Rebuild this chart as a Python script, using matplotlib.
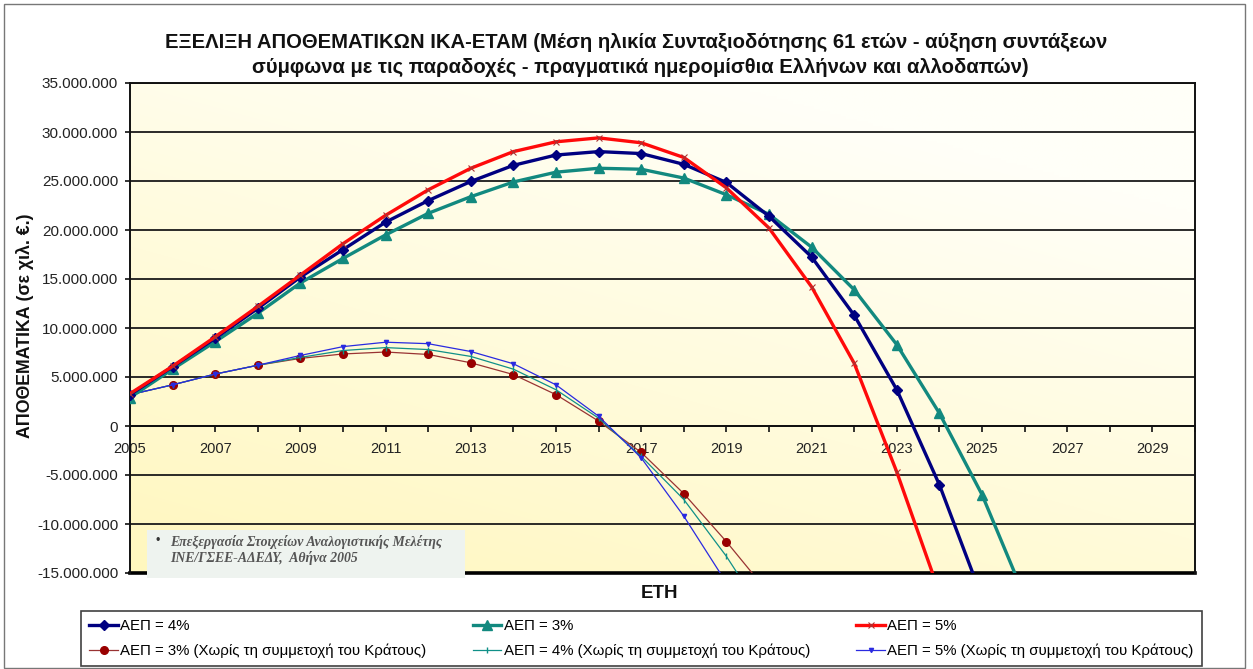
import numpy as np
import matplotlib
matplotlib.use("Agg")
import matplotlib.pyplot as plt
from matplotlib.patches import Rectangle
from matplotlib.ticker import FuncFormatter, MultipleLocator

plt.rcParams['font.family'] = ['Liberation Sans', 'DejaVu Sans']

# ---------------- data (thousand €) ----------------
years_4 = list(range(2005, 2026))
aep_4 = [3.2, 6.05, 8.95, 12.0, 15.2, 18.0, 20.8, 23.0, 24.95, 26.6, 27.65, 28.0,
         27.8, 26.7, 24.85, 21.4, 17.25, 11.3, 3.7, -6.0, -17.5]

years_3 = list(range(2005, 2027))
aep_3 = [2.9, 5.8, 8.6, 11.5, 14.6, 17.1, 19.5, 21.7, 23.4, 24.9, 25.9, 26.3,
         26.2, 25.3, 23.6, 21.6, 18.25, 13.9, 8.3, 1.3, -7.0, -17.4]

years_5 = list(range(2005, 2025))
aep_5 = [3.3, 6.1, 9.1, 12.2, 15.4, 18.6, 21.5, 24.1, 26.3, 28.0, 29.0, 29.4,
         28.9, 27.4, 24.3, 20.2, 14.2, 6.4, -4.7, -17.0]

years_3n = list(range(2005, 2021))
aep_3n = [3.2, 4.2, 5.3, 6.2, 6.9, 7.35, 7.55, 7.3, 6.45, 5.25, 3.2, 0.5,
          -2.7, -6.9, -11.8, -17.1]

years_4n = list(range(2005, 2021))
aep_4n = [3.2, 4.2, 5.3, 6.2, 7.0, 7.7, 8.0, 7.8, 7.1, 5.8, 3.7, 0.8,
          -3.1, -7.5, -13.3, -20.0]

years_5n = list(range(2005, 2020))
aep_5n = [3.2, 4.2, 5.3, 6.2, 7.2, 8.1, 8.55, 8.4, 7.6, 6.35, 4.2, 1.0,
          -3.25, -9.2, -16.0]

labels = ["ΑΕΠ = 4%", "ΑΕΠ = 3%", "ΑΕΠ = 5%",
          "ΑΕΠ = 3% (Χωρίς τη συμμετοχή του Κράτους)",
          "ΑΕΠ = 4% (Χωρίς τη συμμετοχή του Κράτους)",
          "ΑΕΠ = 5% (Χωρίς τη συμμετοχή του Κράτους)"]

title1 = "ΕΞΕΛΙΞΗ ΑΠΟΘΕΜΑΤΙΚΩΝ ΙΚΑ-ΕΤΑΜ (Μέση ηλικία Συνταξιοδότησης 61 ετών - αύξηση συντάξεων"
title2 = "σύμφωνα με τις παραδοχές - πραγματικά ημερομίσθια Ελλήνων και αλλοδαπών)"
ylabel = "ΑΠΟΘΕΜΑΤΙΚΑ (σε χιλ. €.)"
xlabel = "ΕΤΗ"
note1 = "Επεξεργασία Στοιχείων Αναλογιστικής Μελέτης"
note2 = "ΙΝΕ/ΓΣΕΕ-ΑΔΕΔΥ,  Αθήνα 2005"

M = 1e6
W, H = 1253, 669

fig = plt.figure(figsize=(W / 100, H / 100), dpi=100)
fig.patch.set_facecolor('white')
ax = fig.add_axes([130 / W, 1 - 573 / H, (1195 - 130) / W, (573 - 83) / H])

# gradient background
nx, ny = 200, 200
gx, gy = np.meshgrid(np.linspace(0, 1, nx), np.linspace(0, 1, ny))
t = np.clip(0.45 * gx + 0.75 * gy, 0, 1)
c0 = np.array([255, 247, 190]) / 255
c1 = np.array([255, 255, 248]) / 255
grad = c0[None, None, :] * (1 - t[..., None]) + c1[None, None, :] * t[..., None]
ax.imshow(grad, extent=[0, 1, 0, 1], transform=ax.transAxes, aspect='auto',
          origin='lower', zorder=0, interpolation='bilinear')

# lines
h3n, = ax.plot(years_3n, np.array(aep_3n) * M, color='#993333', lw=0.9,
               marker='o', ms=5.5, mfc='#990000', mec='#990000', zorder=3)
h4n, = ax.plot(years_4n, np.array(aep_4n) * M, color='#109088', lw=0.9,
               marker='|', ms=5, mew=1, zorder=3)
h5n, = ax.plot(years_5n, np.array(aep_5n) * M, color='#2a2ae0', lw=0.9,
               marker='v', ms=3, zorder=3)
h3, = ax.plot(years_3, np.array(aep_3) * M, color='#12897f', lw=2.4,
              marker='^', ms=7.5, zorder=4)
h4, = ax.plot(years_4, np.array(aep_4) * M, color='#000080', lw=2.4,
              marker='D', ms=5.5, zorder=5)
h5, = ax.plot(years_5, np.array(aep_5) * M, color='#ff0a0a', lw=2.4,
              marker='x', ms=5, mew=0.8, mec='#aa3333', zorder=6)

ax.set_xlim(2005, 2030)
ax.set_ylim(-15 * M, 35 * M)

# axes styling
ax.yaxis.set_major_locator(MultipleLocator(5 * M))
ax.yaxis.set_major_formatter(FuncFormatter(lambda v, p: f"{int(round(v)):,}".replace(',', '.')))
ax.set_xticks(range(2005, 2031))
ax.set_xticklabels([str(y) if (y - 2005) % 2 == 0 and y < 2030 else "" for y in range(2005, 2031)])
ax.grid(axis='y', color='#1a1a1a', lw=1.3, zorder=1)
ax.set_axisbelow(True)

ax.spines['bottom'].set_position(('data', 0))
for s in ['bottom', 'left', 'right', 'top']:
    ax.spines[s].set_color('#111111')
    ax.spines[s].set_linewidth(1.4)
    ax.spines[s].set_zorder(2)
ax.tick_params(axis='x', direction='out', length=4.3, width=1.2, pad=7.5,
               labelsize=10.5, labelcolor='#222222', color='#111111')
ax.tick_params(axis='y', direction='out', length=3.5, width=1.2, pad=5,
               labelsize=11, labelcolor='#222222', color='#111111')
# bottom frame line
ax.plot([0, 1], [0, 0], transform=ax.transAxes, color='black', lw=2.6,
        clip_on=False, zorder=2)

# titles and labels
fig.text(636 / W, 1 - 42 / H, title1, ha='center', va='center', fontsize=14.6,
         fontweight='bold', color='#111111')
fig.text(640 / W, 1 - 67 / H, title2, ha='center', va='center', fontsize=14.6,
         fontweight='bold', color='#111111')
fig.text(25 / W, 1 - 326 / H, ylabel, ha='center', va='center', rotation=90,
         fontsize=12.8, fontweight='bold', color='#111111')
fig.text(660 / W, 1 - 593 / H, xlabel, ha='center', va='center',
         fontsize=13.5, fontweight='bold', color='#111111')

# note box
box = Rectangle((147 / W, 1 - 578 / H), (465 - 147) / W, (578 - 530) / H,
                transform=fig.transFigure, facecolor='#eef3ef', edgecolor='none',
                zorder=10, clip_on=False)
ax.add_patch(box)
fig.text(158 / W, 1 - 541 / H, "•", ha='center', va='center', fontsize=9,
         color='#333333', zorder=11)
fig.text(170 / W, 1 - 542 / H, note1, ha='left', va='center', fontsize=9.9,
         family=['Liberation Serif', 'DejaVu Serif'], style='italic',
         fontweight='bold', color='#555555', zorder=11)
fig.text(170 / W, 1 - 558 / H, note2, ha='left', va='center', fontsize=9.9,
         family=['Liberation Serif', 'DejaVu Serif'], style='italic',
         fontweight='bold', color='#555555', zorder=11)

# legend
handles = [h4, h3n, h3, h4n, h5, h5n]
leg_labels = [labels[0], labels[3], labels[1], labels[4], labels[2], labels[5]]
leg = fig.legend(handles, leg_labels, ncol=3, loc='lower left',
                 bbox_to_anchor=(81 / W, 1 - 666 / H),
                 bbox_transform=fig.transFigure, fontsize=10.8, frameon=True,
                 fancybox=False, edgecolor='#111111', handlelength=1.9,
                 handletextpad=0.15, borderaxespad=0, labelspacing=0.7,
                 borderpad=0.55, columnspacing=3.1, numpoints=1)
leg.get_frame().set_linewidth(1.2)

# outer border
fig.add_artist(Rectangle((4 / W, 1 / H), (1245 - 4) / W, (664) / H, fill=False,
                         edgecolor='#777777', lw=1.0, transform=fig.transFigure))

fig.savefig("out.png", dpi=100)
